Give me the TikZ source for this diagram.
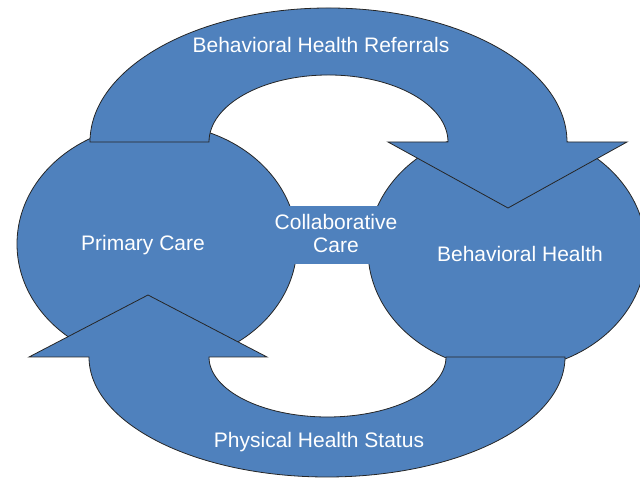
\documentclass[tikz,border=0pt]{standalone}
\usepackage{fontspec}
\setmainfont{Liberation Sans}
\usetikzlibrary{shapes.geometric}
\definecolor{carefill}{RGB}{79,129,189}

\begin{document}
\begin{tikzpicture}[x=1pt,y=1pt,
  blob/.style={fill=carefill,draw=black!85,line width=0.8pt},
  oval/.style={blob,ellipse,inner sep=0pt},
  lbl/.style={text=white,anchor=base,font=\fontsize{21}{24}\selectfont}]
\useasboundingbox (0,0) rectangle (640,478);
% Two ovals for the care settings
\node[oval,minimum width=280pt,minimum height=240pt] (primary) at (157,234) {};
\node[oval,minimum width=278pt,minimum height=240pt] (behav) at (507,228) {};
% Bridge between them, no outline
\fill[carefill] (270,214) rectangle (390,272);
% Upper block arrow, left to right
\draw[blob] (90,336) arc[start angle=180,end angle=0,x radius=238.5pt,y radius=134pt]
  -- (627,336) -- (508,270) -- (388,336) -- (448,336)
  arc[start angle=0,end angle=180,x radius=119.5pt,y radius=67pt] -- cycle;
% Lower block arrow, right to left
\draw[blob] (565,121) arc[start angle=0,end angle=-180,x radius=238pt,y radius=120pt]
  -- (29,121) -- (148,183) -- (267,121) -- (209,121)
  arc[start angle=180,end angle=360,x radius=118.5pt,y radius=60pt] -- cycle;
% Labels
\node[lbl] (primarytxt) at (143,227) {Primary Care};
\node[lbl] (behavtxt) at (520,216) {Behavioral Health};
\node[lbl] (collab) at (336,248) {Collaborative};
\node[lbl] (collabcare) at (336,225) {Care};
\node[lbl] (referrals) at (321,425) {Behavioral Health Referrals};
\node[lbl] (status) at (319,30) {Physical Health Status};
\end{tikzpicture}
\end{document}
